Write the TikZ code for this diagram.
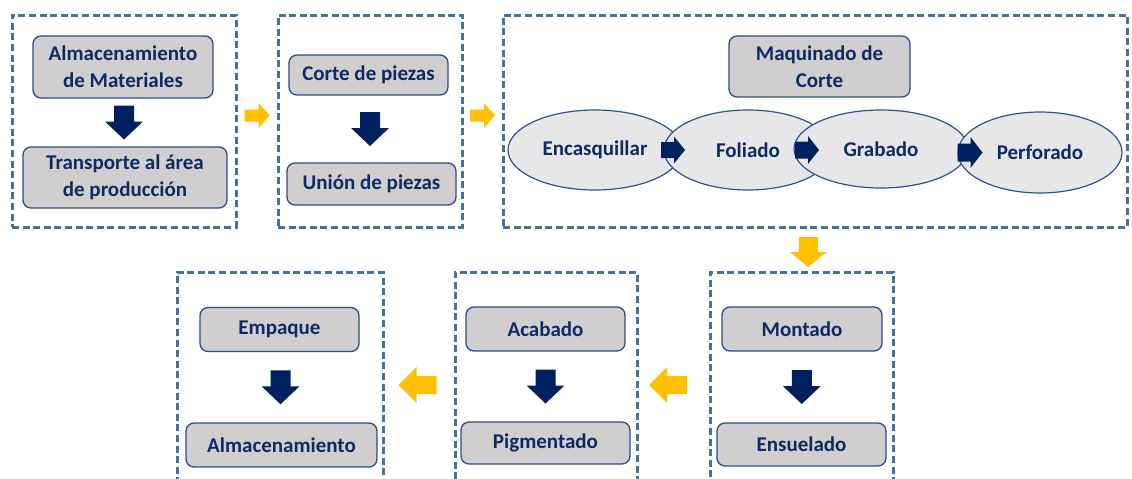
\documentclass[tikz,border=0pt]{standalone}
\usepackage{fontspec}
\setmainfont{Carlito}
\usetikzlibrary{calc,shapes.geometric}
\definecolor{boxblue}{HTML}{41719C}
\definecolor{navy}{HTML}{0E2A62}
\definecolor{nodeborder}{HTML}{2F4B85}
\definecolor{nodefill}{HTML}{D0CECE}
\definecolor{ellfill}{HTML}{E7E6E9}
\definecolor{ellborder}{HTML}{2F528F}
\definecolor{gold}{HTML}{FFC000}
\definecolor{darkarrow}{HTML}{002060}
\tikzset{
  stage/.style={draw=boxblue, line width=3pt, dash pattern=on 7pt off 3.6pt, inner sep=0pt},
  proc/.style={draw=nodeborder, line width=1.3pt, fill=nodefill, rounded corners=8pt,
    text=navy, font=\fontsize{21}{27}\selectfont\bfseries, align=center, inner sep=0pt},
  oval/.style={ellipse, draw=ellborder, line width=1.2pt, fill=ellfill, text=navy,
    font=\fontsize{21}{27}\selectfont\bfseries, inner sep=0pt},
  pics/blockarrow/.style n args={4}{code={
    \fill (-#1/2,-#3/2) -- (#1/2-#4,-#3/2) -- (#1/2-#4,-#2/2) -- (#1/2,0)
      -- (#1/2-#4,#2/2) -- (#1/2-#4,#3/2) -- (-#1/2,#3/2) -- cycle;}},
  darkdown/.style={fill=darkarrow, rotate=-90},
}
\begin{document}
\begin{tikzpicture}[x=1pt, y=-1pt]
\useasboundingbox (0,0) rectangle (1132,479);

% stage boxes
\node[stage, minimum width=224pt, minimum height=212pt] (B1) at (124,121) {};
\node[stage, minimum width=184pt, minimum height=212pt] (B2) at (370,121) {};
\node[stage, minimum width=624pt, minimum height=212pt] (B3) at (815,121) {};
\node[stage, minimum width=183pt, minimum height=220pt] (B4) at (801.5,382) {};
\node[stage, minimum width=182pt, minimum height=220pt] (B5) at (546,382) {};
\node[stage, minimum width=206pt, minimum height=220pt] (B6) at (280,382) {};

% process nodes
\node[proc, minimum width=180pt, minimum height=62pt] (n1) at (123,67) {Almacenamiento\\de Materiales};
\node[proc, minimum width=204pt, minimum height=61pt] (n2) at (125,177.5) {Transporte al área\\de producción};
\node[proc, minimum width=159pt, minimum height=40pt] (n3) at (368.5,75) {Corte de piezas};
\node[proc, minimum width=169pt, minimum height=42pt] (n4) at (371.5,184) {Unión de piezas};
\node[proc, minimum width=181pt, minimum height=61pt] (mq) at (819.5,66.5) {Maquinado de\\Corte};

\node[oval, minimum width=174pt, minimum height=80pt] (e1) at (595,150) {Encasquillar};
\node[oval, minimum width=168pt, minimum height=80pt] (e2) at (748,150) {Foliado};
\node[oval, minimum width=174pt, minimum height=78pt] (e3) at (881,149) {Grabado};
\node[oval, minimum width=164pt, minimum height=81pt] (e4) at (1040,152.5) {Perforado};

\node[proc, minimum width=160pt, minimum height=44pt] (n5) at (802,329) {Montado};
\node[proc, minimum width=169pt, minimum height=43pt] (n6) at (801.5,444.5) {Ensuelado};
\node[proc, minimum width=159pt, minimum height=44pt] (n7) at (545.5,329) {Acabado};
\node[proc, minimum width=169pt, minimum height=42pt] (n8) at (545.5,443) {Pigmentado};
\node[proc, minimum width=159pt, minimum height=44pt] (n9) at (279.5,329.5) {Empaque};
\node[proc, minimum width=191pt, minimum height=44pt] (n10) at (281.5,445) {Almacenamiento};

% dark arrows inside stages
\pic[darkdown] at ($(n1.south)!0.5!(n2.north)$) {blockarrow={34}{38}{20}{18}};
\pic[darkdown] at ($(n3.south)!0.5!(n4.north)$) {blockarrow={34}{38}{20}{18}};
\pic[darkdown] at ($(n5.south)!0.5!(n6.north)$) {blockarrow={34}{38}{20}{18}};
\pic[darkdown] at ($(n7.south)!0.5!(n8.north)$) {blockarrow={34}{38}{20}{18}};
\pic[darkdown] at ($(n9.south)!0.5!(n10.north)$) {blockarrow={34}{38}{20}{18}};

% dark arrows between ovals
\pic[fill=darkarrow] at ($(e1.east)!0.5!(e2.west)$) {blockarrow={24}{27}{16}{11}};
\pic[fill=darkarrow] at (807,150) {blockarrow={24}{28}{17}{11}};
\pic[fill=darkarrow] at (970,152.5) {blockarrow={25}{31}{18}{12}};

% yellow arrows between stages
\pic[fill=gold] at ($(B1.east)!0.5!(B2.west)+(0,-5.5)$) {blockarrow={25}{25}{12}{11}};
\pic[fill=gold] at ($(B2.east)!0.5!(B3.west)+(0,-5.5)$) {blockarrow={25}{25}{12}{11}};
\pic[fill=gold, rotate=-90] at ($(B3.south)!0.5!(B4.north)+(0,2.5)$) {blockarrow={30}{37}{19}{15}};
\pic[fill=gold, rotate=180] at ($(B4.west)!0.5!(B5.east)+(-5.5,3)$) {blockarrow={38}{36}{18}{18}};
\pic[fill=gold, rotate=180] at ($(B5.west)!0.5!(B6.east)+(-1.5,3)$) {blockarrow={38}{36}{18}{18}};
\end{tikzpicture}
\end{document}
